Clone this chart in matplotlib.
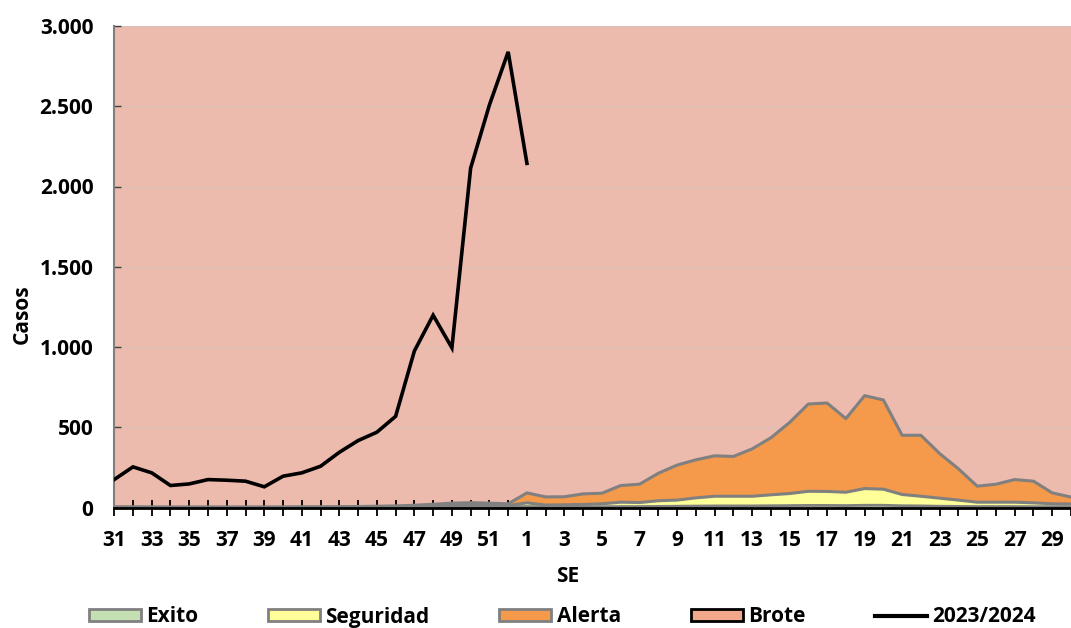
import numpy as np
import matplotlib
matplotlib.use("Agg")
import matplotlib.pyplot as plt
from matplotlib.patches import Patch
from matplotlib.lines import Line2D

plt.rcParams['font.family'] = ['Open Sans', 'DejaVu Sans']
plt.rcParams['font.weight'] = 'bold'

# Epidemiological weeks (SE): 31..52 of 2023, then 1..30 of 2024
weeks = [str(w) for w in range(31, 53)] + [str(w) for w in range(1, 31)]

# Cumulative upper limits of each channel zone (cases)
exito = [1, 1, 1, 1, 1, 1, 1, 1, 1, 1, 1, 1, 1, 2, 2, 3, 4, 5, 6, 6, 6, 5,
         6, 4, 4, 5, 5, 6, 6, 7, 8, 9, 10, 10, 10, 11, 12, 13, 13, 12, 14, 14,
         11, 10, 8, 7, 6, 6, 6, 5, 5, 5]
seguridad = [2, 2, 2, 1, 1, 1, 1, 1, 1, 2, 2, 2, 2, 3, 4, 5, 7, 10, 13, 15, 14, 12,
             29, 15, 17, 19, 23, 33, 31, 42, 46, 60, 70, 70, 70, 79, 87, 101, 100, 95, 118, 114,
             81, 70, 58, 46, 33, 33, 33, 29, 23, 22]
alerta = [4, 4, 3, 3, 3, 3, 3, 3, 3, 3, 4, 4, 5, 6, 8, 10, 14, 20, 27, 30, 27, 23,
          91, 66, 67, 85, 89, 137, 145, 213, 264, 297, 322, 318, 365, 434, 530, 645, 651, 554, 697, 670,
          450, 450, 336, 241, 133, 145, 174, 164, 91, 65]
brote_top = 3000

# 2023/2024 season cases
casos = [174, 253, 216, 137, 147, 174, 170, 164, 129, 195, 216, 257, 344, 417, 469, 568,
         975, 1198, 995, 2115, 2508, 2839, 2144] + [np.nan] * 29

ytick_vals = [0, 500, 1000, 1500, 2000, 2500, 3000]
ytick_labels = ['0', '500', '1.000', '1.500', '2.000', '2.500', '3.000']

x = np.arange(len(weeks))
FS = 15

fig = plt.figure(figsize=(10.71, 6.28), dpi=100)
ax = fig.add_axes([114.2 / 1071, 1 - 507.5 / 628, 1 - 114.2 / 1071, (507.5 - 26) / 628])

c_exito = '#C4DFB2'
c_seg = '#FFFF99'
c_alerta = '#F5994A'
c_brote = '#EDBBAD'
c_brote_leg = '#F2A98B'
edge = '#808080'

ax.fill_between(x, alerta, brote_top, color=c_brote, lw=0, zorder=1)
ax.fill_between(x, seguridad, alerta, color=c_alerta, lw=0, zorder=2)
ax.fill_between(x, exito, seguridad, color=c_seg, lw=0, zorder=2)
ax.fill_between(x, 0, exito, color=c_exito, lw=0, zorder=2)
ax.plot(x, alerta, color=edge, lw=2.2, zorder=3)
ax.plot(x, seguridad, color=edge, lw=2.2, zorder=3)
ax.plot(x, exito, color=edge, lw=2.0, zorder=3)

# faint gridlines
for v in ytick_vals[1:]:
    ax.axhline(v, color='#DDC0B6', lw=1.0, zorder=1.5)

ax.plot(x, casos, color='black', lw=2.6, zorder=5, solid_joinstyle='miter')

ax.set_ylim(0, 3000)
ax.set_xlim(0, (1071 - 114.2) / 18.93)
ax.set_yticks(ytick_vals)
ax.set_yticklabels(ytick_labels)
ax.set_xticks(x)
ax.set_xticklabels([w if i % 2 == 0 else '' for i, w in enumerate(weeks)])
ax.tick_params(axis='x', direction='inout', length=11, width=1.3, color='black',
               labelsize=FS, pad=11)
ax.tick_params(axis='y', direction='in', length=5, width=1.0, color='#404040',
               labelsize=FS, pad=15)
for lab in ax.get_xticklabels() + ax.get_yticklabels():
    lab.set_fontweight('bold')

for s in ['top', 'right']:
    ax.spines[s].set_visible(False)
ax.spines['left'].set_color('#7F7F7F')
ax.spines['left'].set_linewidth(1.5)
ax.spines['bottom'].set_color('black')
ax.spines['bottom'].set_linewidth(2.0)
ax.spines['bottom'].set_zorder(6)

fig.text(22 / 1071, 1 - 314 / 628, 'Casos', rotation=90, ha='center', va='center',
         fontsize=FS, fontweight='bold')
fig.text(568 / 1071, 1 - 576 / 628, 'SE', ha='center', va='center',
         fontsize=FS, fontweight='bold')

handles = [
    Patch(facecolor=c_exito, edgecolor=edge, lw=2),
    Patch(facecolor=c_seg, edgecolor=edge, lw=2),
    Patch(facecolor=c_alerta, edgecolor=edge, lw=2),
    Patch(facecolor=c_brote_leg, edgecolor='black', lw=2),
    Line2D([0], [0], color='black', lw=3),
]
labels = ['Exito', 'Seguridad', 'Alerta', 'Brote', '2023/2024']
fig.legend(handles, labels, loc='center', bbox_to_anchor=(562.5 / 1071, 1 - 617 / 628),
           ncol=5, frameon=False, prop={'size': FS, 'weight': 'bold'},
           handlelength=2.5, handleheight=0.55, handletextpad=0.25, columnspacing=3.35,
           borderpad=0, borderaxespad=0)

fig.savefig('out.png', dpi=100)
